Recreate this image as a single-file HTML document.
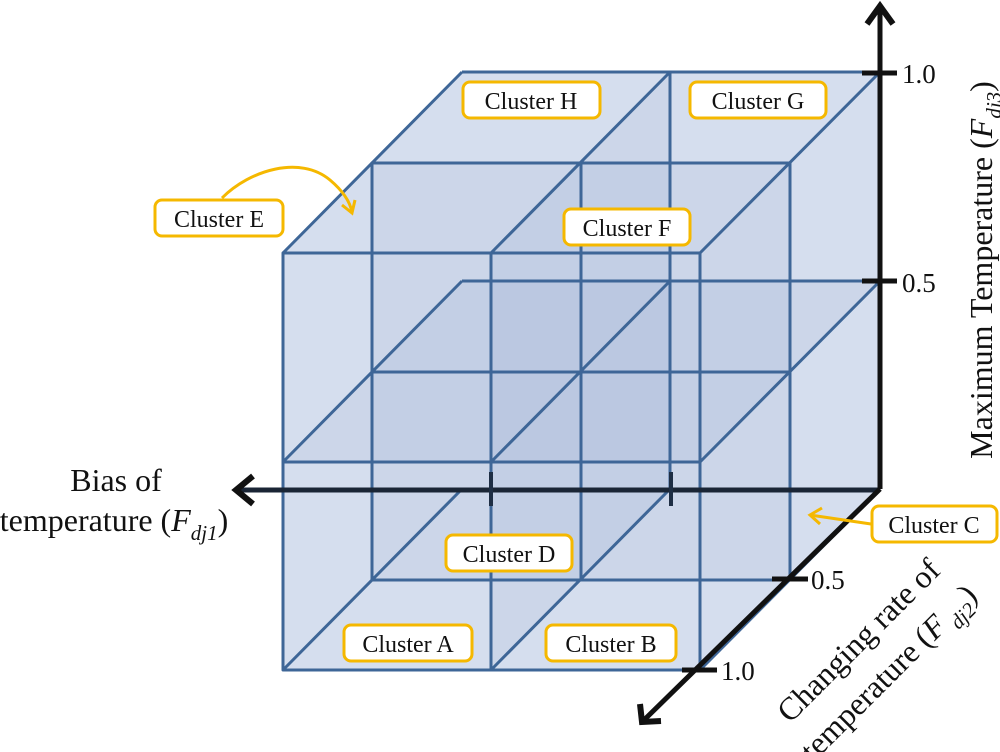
<!DOCTYPE html>
<html><head><meta charset="utf-8"><style>
html,body{margin:0;padding:0;background:#fff;}
svg{display:block;font-family:"Liberation Serif",serif;}
</style></head><body>
<svg width="1000" height="752" viewBox="0 0 1000 752" xmlns="http://www.w3.org/2000/svg">
<polygon points="283,253 462,72 880,72 880,489 700,670 283,670" fill="#e9eff8"/>
<g fill="rgba(60,100,165,0.055)" stroke="none">
<polygon points="283,253 700,253 700,670 283,670"/>
<polygon points="372,163 790,163 790,580 372,580"/>
<polygon points="462,72 880,72 880,489 462,489"/>
<polygon points="283,253 700,253 880,72 462,72"/>
<polygon points="283,462 700,462 880,281 462,281"/>
<polygon points="283,670 700,670 880,489 462,489"/>
<polygon points="283,253 283,670 462,489 462,72"/>
<polygon points="491,253 491,670 670,489 670,72"/>
<polygon points="700,253 700,670 880,489 880,72"/>
</g>
<g fill="none" stroke="#3e6697" stroke-width="3" stroke-linejoin="round">
<polyline points="462,72 880,72 880,489"/>
<line x1="670" y1="72" x2="670" y2="489"/>
<line x1="462" y1="281" x2="880" y2="281"/>
<rect x="372" y="163" width="418" height="417"/>
<line x1="581" y1="163" x2="581" y2="580"/>
<line x1="372" y1="372" x2="790" y2="372"/>
<rect x="283" y="253" width="417" height="417"/>
<line x1="491" y1="253" x2="491" y2="670"/>
<line x1="283" y1="462" x2="700" y2="462"/>
<line x1="283" y1="253" x2="462" y2="72"/>
<line x1="491" y1="253" x2="670" y2="72"/>
<line x1="700" y1="253" x2="880" y2="72"/>
<line x1="283" y1="462" x2="462" y2="281"/>
<line x1="491" y1="462" x2="670" y2="281"/>
<line x1="700" y1="462" x2="880" y2="281"/>
<line x1="283" y1="670" x2="462" y2="489"/>
<line x1="491" y1="670" x2="670" y2="489"/>
<line x1="700" y1="670" x2="880" y2="489"/>
</g>
<g stroke="#111" stroke-width="5" fill="none">
<line x1="880" y1="490" x2="236" y2="490" stroke="#1a2535"/>
<polyline points="253,476 236,490 253,504" stroke-width="6"/>
<line x1="880" y1="489" x2="880" y2="6"/>
<polyline points="867,24 880,6 893,24" stroke-width="6"/>
<line x1="880" y1="489" x2="642" y2="722"/>
<polyline points="640,704 642,722 661,721" stroke-width="6"/>
</g>
<g stroke="#1e2e44" stroke-width="4">
<line x1="491" y1="472" x2="491" y2="506"/>
<line x1="671" y1="472" x2="671" y2="506"/>
</g>
<g stroke="#111" stroke-width="5">
<line x1="862" y1="73" x2="897" y2="73"/>
<line x1="862" y1="281" x2="897" y2="281"/>
<line x1="772" y1="579" x2="808" y2="579"/>
<line x1="682" y1="670" x2="717" y2="670"/>
</g>
<g font-size="27" fill="#111">
<text x="902" y="83">1.0</text>
<text x="902" y="292">0.5</text>
<text x="811" y="589">0.5</text>
<text x="721" y="680">1.0</text>
</g>
<g stroke="#f5b800" stroke-width="3" fill="none">
<path d="M222,198 C250,170 300,155 330,180 C343,191 350,202 352,212"/>
<polyline points="342,205 352,213 355,200"/>
<line x1="871" y1="524" x2="810" y2="515"/>
<polyline points="822,508 810,515 820,524"/>
</g>
<g fill="#fff" stroke="#f5b800" stroke-width="3">
<rect x="463" y="82" width="137" height="36" rx="7"/>
<rect x="690" y="82" width="136" height="36" rx="7"/>
<rect x="564" y="209" width="126" height="36" rx="7"/>
<rect x="155" y="200" width="128" height="36" rx="7"/>
<rect x="446" y="535" width="126" height="36" rx="7"/>
<rect x="344" y="625" width="128" height="36" rx="7"/>
<rect x="546" y="625" width="130" height="36" rx="7"/>
<rect x="872" y="506" width="125" height="36" rx="7"/>
</g>
<g font-size="24" fill="#111" text-anchor="middle">
<text x="531" y="109">Cluster H</text>
<text x="758" y="109">Cluster G</text>
<text x="627" y="236">Cluster F</text>
<text x="219" y="227">Cluster E</text>
<text x="509" y="562">Cluster D</text>
<text x="408" y="652">Cluster A</text>
<text x="611" y="652">Cluster B</text>
<text x="934" y="533">Cluster C</text>
</g>
<g font-size="32" fill="#111">
<text x="116" y="491" text-anchor="middle">Bias of</text>
<text x="114" y="531" text-anchor="middle">temperature (<tspan font-style="italic">F</tspan><tspan font-style="italic" font-size="21" dy="9">dj1</tspan><tspan dy="-9">)</tspan></text>
<text transform="translate(992,270) rotate(-90)" text-anchor="middle">Maximum Temperature (<tspan font-style="italic">F</tspan><tspan font-style="italic" font-size="21" dy="9">dj3</tspan><tspan dy="-9">)</tspan></text>
<text transform="translate(866,648) rotate(-45)" text-anchor="middle">Changing rate of</text>
<text transform="translate(896,680) rotate(-45)" text-anchor="middle">temperature (<tspan font-style="italic">F</tspan><tspan font-style="italic" font-size="21" dy="9"> dj2</tspan><tspan dy="-9">)</tspan></text>
</g>
</svg>
</body></html>
